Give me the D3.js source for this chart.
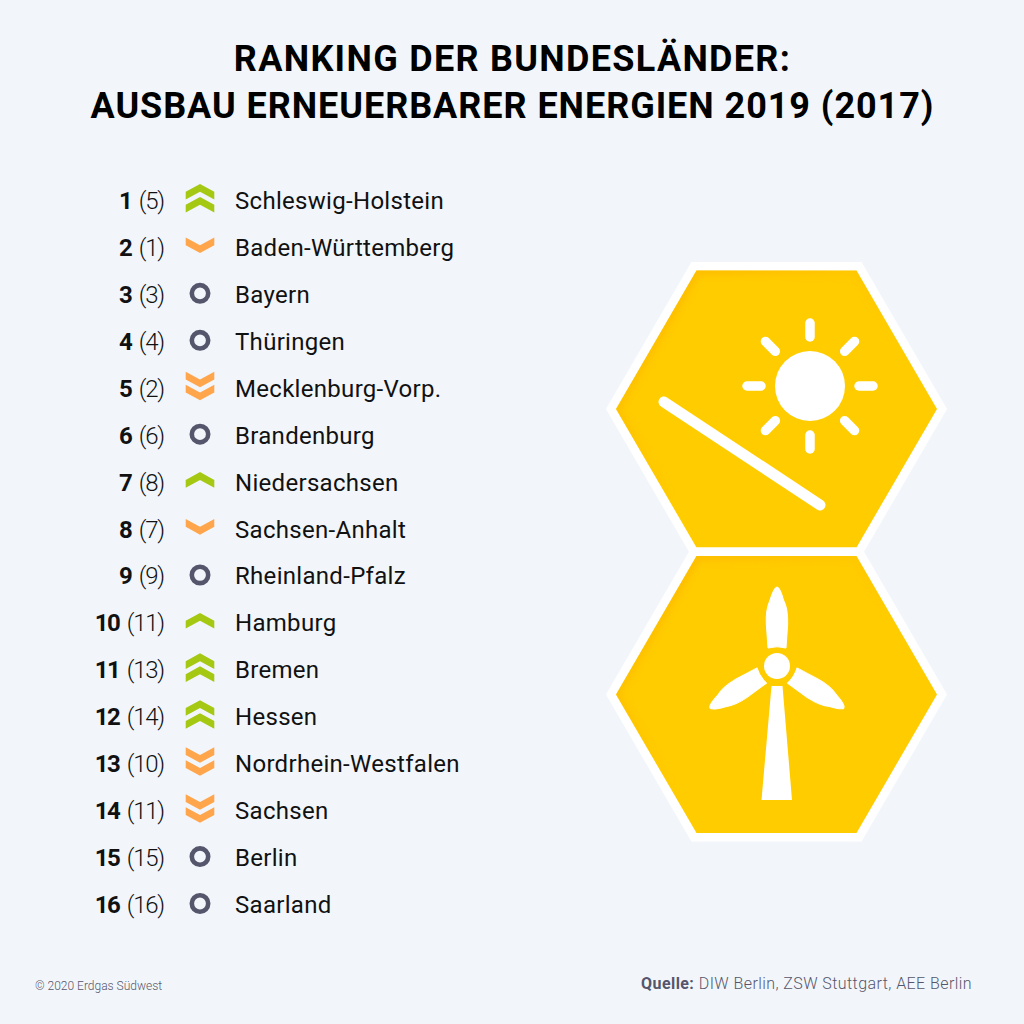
<!DOCTYPE html>
<html>
<head>
<meta charset="utf-8">
<script src="https://d3js.org/d3.v7.min.js"></script>
<style>
  html, body { margin: 0; padding: 0; background: #f2f6fb; }
  svg { display: block; font-family: Roboto, sans-serif; }
</style>
</head>
<body>
<svg id="chart" width="1024" height="1024"></svg>
<script>
var titleLines = ["RANKING DER BUNDESLÄNDER:", "AUSBAU ERNEUERBARER ENERGIEN 2019 (2017)"];
var ranks = [1, 2, 3, 4, 5, 6, 7, 8, 9, 10, 11, 12, 13, 14, 15, 16];
var previous = [5, 1, 3, 4, 2, 6, 8, 7, 9, 11, 13, 14, 10, 11, 15, 16];
var states = ["Schleswig-Holstein", "Baden-Württemberg", "Bayern", "Thüringen", "Mecklenburg-Vorp.",
  "Brandenburg", "Niedersachsen", "Sachsen-Anhalt", "Rheinland-Pfalz", "Hamburg", "Bremen", "Hessen",
  "Nordrhein-Westfalen", "Sachsen", "Berlin", "Saarland"];
// number of chevrons: + up, - down, 0 = unchanged
var trend = [2, -1, 0, 0, -2, 0, 1, -1, 0, 1, 2, 2, -2, -2, 0, 0];

var green = "#a5c813", orange = "#ffa64d", slate = "#55566b", yellow = "#ffcc00";

var svg = d3.select("#chart");
var y = d3.scalePoint().domain(ranks).range([201, 905]);

svg.append("rect").attr("width", 1024).attr("height", 1024).attr("fill", "#f2f6fb");

// title
svg.selectAll("text.title")
  .data(titleLines)
  .enter()
  .append("text")
  .attr("class", "title")
  .attr("x", 512.5)
  .attr("y", function (d, i) { return 71 + i * 47; })
  .attr("text-anchor", "middle")
  .attr("font-size", 36)
  .attr("font-weight", 700)
  .attr("letter-spacing", function (d, i) { return i === 0 ? 1.3 : 0.95; })
  .attr("fill", "#000")
  .text(function (d) { return d; });

var rows = svg.selectAll("g.row")
  .data(ranks)
  .enter()
  .append("g")
  .attr("class", "row")
  .attr("transform", function (d) { return "translate(0," + y(d) + ")"; });

// rank + previous rank
var rankText = rows.append("text")
  .attr("x", 164)
  .attr("y", 8)
  .attr("text-anchor", "end")
  .attr("font-size", 24)
  .attr("fill", "#111");
rankText.append("tspan")
  .attr("font-weight", 700)
  .attr("letter-spacing", -1.5)
  .text(function (d) { return d + " "; });
rankText.append("tspan")
  .attr("font-weight", 300)
  .attr("letter-spacing", -1.2)
  .attr("dx", 3)
  .text(function (d, i) { return "(" + previous[i] + ")"; });

// state names
rows.append("text")
  .attr("x", 235)
  .attr("y", 8)
  .attr("font-size", 24)
  .attr("font-weight", 400)
  .attr("letter-spacing", 0.3)
  .attr("fill", "#111")
  .text(function (d, i) { return states[i]; });

// trend markers
var chevron = d3.line();
rows.each(function (d, i) {
  var g = d3.select(this), t = trend[i], n = Math.abs(t), dir = t > 0 ? -1 : 1;
  if (t === 0) {
    g.append("circle")
      .attr("cx", 200).attr("cy", -1.5).attr("r", 8.2)
      .attr("fill", "none").attr("stroke", slate).attr("stroke-width", 4.6);
    return;
  }
  d3.range(n).forEach(function (k) {
    var cy = -2.7 + (n === 2 ? (k - 0.5) * 13 : 0);
    var pts = [[-14.3, -7.8], [0, 0], [14.3, -7.8], [14.3, 0], [0, 7.8], [-14.3, 0]];
    g.append("path")
      .attr("d", chevron(pts.map(function (p) { return [200 + p[0], cy + dir * p[1]]; })) + "Z")
      .attr("fill", t > 0 ? green : orange);
  });
});

// hexagon tiles
function hexPath(cx, cy, rx, top) {
  return chevron([[cx - rx, cy], [cx - rx + top, cy - (top * 1.72)], [cx + rx - top, cy - (top * 1.72)],
    [cx + rx, cy], [cx + rx - top, cy + (top * 1.72)], [cx - rx + top, cy + (top * 1.72)]]) + "Z";
}
var defs = svg.append("defs");
var grad = defs.append("linearGradient").attr("id", "edge")
  .attr("x1", 0).attr("y1", 0).attr("x2", 0.5).attr("y2", 0.5);
grad.append("stop").attr("offset", 0).attr("stop-color", "#fdb900").attr("stop-opacity", 1);
grad.append("stop").attr("offset", 1).attr("stop-color", "#fdb900").attr("stop-opacity", 0);
defs.append("filter").attr("id", "soft").append("feGaussianBlur").attr("stdDeviation", 3);

[[776.5, 409], [776.5, 694.5]].forEach(function (c, i) {
  var id = "hexclip" + i;
  var inner = hexPath(c[0], c[1], 160.5, 80.5);
  svg.append("path").attr("d", hexPath(c[0], c[1], 170.5, 85.5)).attr("fill", "#fff");
  defs.append("clipPath").attr("id", id).append("path").attr("d", inner);
  svg.append("path").attr("d", inner).attr("fill", yellow);
  svg.append("g").attr("clip-path", "url(#" + id + ")")
    .append("path").attr("d", inner)
    .attr("fill", "none").attr("stroke", "url(#edge)").attr("stroke-width", 10)
    .attr("filter", "url(#soft)");
});

// sun + panel
var sun = svg.append("g").attr("transform", "translate(810,386)");
sun.append("circle").attr("r", 35).attr("fill", "#fff");
d3.range(8).forEach(function (k) {
  var a = k * Math.PI / 4;
  sun.append("line")
    .attr("x1", 49 * Math.cos(a)).attr("y1", 49 * Math.sin(a))
    .attr("x2", 63 * Math.cos(a)).attr("y2", 63 * Math.sin(a))
    .attr("stroke", "#fff").attr("stroke-width", 9.5).attr("stroke-linecap", "round");
});
svg.append("line")
  .attr("x1", 664).attr("y1", 402).attr("x2", 820).attr("y2", 505)
  .attr("stroke", "#fff").attr("stroke-width", 11).attr("stroke-linecap", "round");

// wind turbine
var turbine = svg.append("g").attr("transform", "translate(777,666)");
turbine.append("circle").attr("r", 13).attr("fill", "#fff");
turbine.append("path")
  .attr("d", "M-5.5,20H5.5L15,134H-15.5Z")
  .attr("fill", "#fff");
[0, 122, -122].forEach(function (a) {
  turbine.append("path")
    .attr("d", "M-9,-18 Q0,-20.5 9,-18 L10.7,-42 Q11,-58 6.5,-66 Q3,-79 0,-79 Q-3,-79 -7,-66 Q-11.5,-56 -10.7,-42Z")
    .attr("transform", "rotate(" + a + ")")
    .attr("fill", "#fff")
    .attr("stroke", "#fff").attr("stroke-width", 1).attr("stroke-linejoin", "round");
});

// footer
svg.append("text")
  .attr("x", 35).attr("y", 990)
  .attr("font-size", 12).attr("fill", slate).attr("font-weight", 300)
  .text("© 2020 Erdgas Südwest");
var source = svg.append("text")
  .attr("x", 972).attr("y", 989)
  .attr("text-anchor", "end")
  .attr("font-size", 16).attr("letter-spacing", 0.43).attr("fill", slate);
source.append("tspan").attr("font-weight", 700).text("Quelle: ");
source.append("tspan").attr("font-weight", 300).text("DIW Berlin, ZSW Stuttgart, AEE Berlin");
</script>
</body>
</html>
